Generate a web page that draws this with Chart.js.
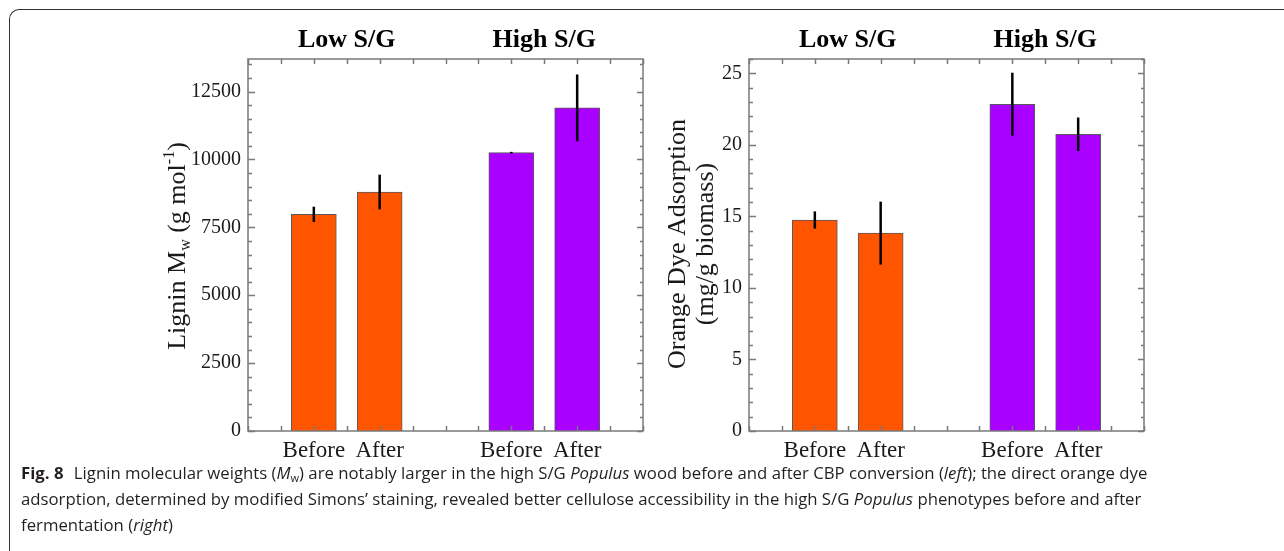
<!DOCTYPE html>
<html>
<head>
<meta charset="utf-8">
<script src="https://cdn.jsdelivr.net/npm/chart.js@4.4.1/dist/chart.umd.min.js"></script>
<style>
  html, body { margin: 0; padding: 0; background: #fff; }
  body { width: 1284px; height: 551px; position: relative; overflow: hidden; }
  .frame {
    position: absolute; left: 9px; top: 9px; width: 1300px; height: 600px;
    border-top: 1.5px solid #333; border-left: 1.5px solid #333;
    border-top-left-radius: 10px;
  }
  .plot { position: absolute; top: 0; width: 515px; height: 470px; }
  #left { left: 140px; }
  #right { left: 645px; }
  .caption {
    position: absolute; left: 21px; top: 460px;
    font-family: 'Open Sans', sans-serif; font-size: 16.75px; line-height: 26px;
    color: #231f20; white-space: nowrap;
  }
  .caption b { font-weight: 700; margin-right: 6px; }
  .caption sub { font-size: 11px; vertical-align: -3px; line-height: 0; }
</style>
</head>
<body>
<div class="frame"></div>
<div class="plot" id="left"><canvas id="chartLignin"></canvas></div>
<div class="plot" id="right"><canvas id="chartDye"></canvas></div>
<div class="caption">
  <div><b>Fig. 8</b> Lignin molecular weights (<i>M</i><sub>w</sub>) are notably larger in the high S/G <i>Populus</i> wood before and after CBP conversion (<i>left</i>); the direct orange dye</div>
  <div>adsorption, determined by modified Simons’ staining, revealed better cellulose accessibility in the high S/G <i>Populus</i> phenotypes before and after</div>
  <div>fermentation (<i>right</i>)</div>
</div>
<script>
// data
const xSlots = [2, 4, 8, 10];
const conditions = ['Before', 'After', 'Before', 'After'];
const groups = ['Low S/G', 'High S/G'];
const groupCenters = [3, 9];

const ligninMw = [7980, 8800, 10250, 11900];
const ligninErr = [280, 640, 30, 1230];
const ligninTicks = [0, 2500, 5000, 7500, 10000, 12500];

const dyeAdsorption = [14.75, 13.83, 22.84, 20.74];
const dyeErr = [0.6, 2.2, 2.2, 1.17];
const dyeTicks = [0, 5, 10, 15, 20, 25];

const barColors = ['#ff5500', '#ff5500', '#aa00ff', '#aa00ff'];
const SERIF = "'Liberation Serif', 'Times New Roman', serif";
const INK = '#1a1a1a';

// box around plot area with inward ticks on all four sides
const frameTicks = {
    id: 'frameTicks',
    afterDatasetsDraw(chart, args, opts) {
        const { ctx, chartArea: a, scales } = chart;
        const x = scales.x, y = scales.y;
        ctx.save();
        ctx.strokeStyle = '#7a7a7a';
        ctx.lineWidth = 1.5;
        ctx.beginPath();
        for (let v = x.min; v <= x.max; v += 1) {
            const px = Math.round(x.getPixelForValue(v)) + 0.5;
            ctx.moveTo(px, a.bottom); ctx.lineTo(px, a.bottom - 5);
            ctx.moveTo(px, a.top); ctx.lineTo(px, a.top + 5);
        }
        for (let v = 0; v <= y.max + 1e-9; v += opts.minor) {
            const py = Math.round(y.getPixelForValue(v)) + 0.5;
            const r = v / opts.major;
            const major = Math.abs(r - Math.round(r)) < 1e-6;
            const len = major ? 7 : 4;
            ctx.moveTo(a.left, py); ctx.lineTo(a.left + len, py);
            ctx.moveTo(a.right, py); ctx.lineTo(a.right - len + 1, py);
        }
        ctx.stroke();
        ctx.strokeRect(a.left, a.top, a.right - a.left, a.bottom - a.top);
        ctx.restore();
    }
};

// symmetric error bars, no caps
const errorBars = {
    id: 'errorBars',
    afterDatasetsDraw(chart, args, opts) {
        const { ctx, scales: { y } } = chart;
        const meta = chart.getDatasetMeta(0);
        const values = chart.data.datasets[0].data;
        ctx.save();
        ctx.strokeStyle = '#000';
        ctx.lineWidth = 2.5;
        meta.data.forEach((bar, i) => {
            const v = values[i].y, e = opts.errors[i];
            ctx.beginPath();
            ctx.moveTo(bar.x, y.getPixelForValue(v + e));
            ctx.lineTo(bar.x, y.getPixelForValue(v - e));
            ctx.stroke();
        });
        ctx.restore();
    }
};

// rotated y-axis title that allows sub/superscripts
const yTitle = {
    id: 'yTitle',
    afterDraw(chart, args, opts) {
        const ctx = chart.ctx;
        const size = opts.size;
        const fontOf = p => (p.sub || p.sup ? Math.round(size * 0.62) : size) + 'px ' + SERIF;
        ctx.save();
        ctx.fillStyle = INK;
        ctx.textBaseline = 'alphabetic';
        ctx.textAlign = 'left';
        opts.lines.forEach(line => {
            let total = 0;
            line.parts.forEach(p => { ctx.font = fontOf(p); total += ctx.measureText(p.t).width; });
            ctx.save();
            ctx.translate(line.x, opts.centerY);
            ctx.rotate(-Math.PI / 2);
            let cx = -total / 2;
            line.parts.forEach(p => {
                ctx.font = fontOf(p);
                const dy = p.sub ? 5 : (p.sup ? -11 : 0);
                ctx.fillText(p.t, cx, dy);
                cx += ctx.measureText(p.t).width;
            });
            ctx.restore();
        });
        ctx.restore();
    }
};

const makeChart = (id, values, errors, ticks, yMax, minor, major, axisWidth, padRight, title) => {
    return new Chart(document.getElementById(id), {
        type: 'bar',
        data: {
            datasets: [{
                data: xSlots.map((x, i) => ({ x: x, y: values[i] })),
                backgroundColor: barColors,
                borderColor: '#5a5a5a',
                borderWidth: 1,
                barThickness: 45,
                xAxisID: 'x',
                yAxisID: 'y'
            }]
        },
        options: {
            responsive: true,
            maintainAspectRatio: false,
            animation: false,
            layout: { padding: { left: 0, right: padRight, top: 0, bottom: 0 } },
            plugins: {
                legend: { display: false },
                tooltip: { enabled: false },
                errorBars: { errors: errors },
                frameTicks: { minor: minor, major: major },
                yTitle: title
            },
            scales: {
                x: {
                    type: 'linear', position: 'bottom', min: 0, max: 12, offset: false,
                    grid: { display: false, drawTicks: false, tickLength: 0 }, border: { display: false },
                    afterBuildTicks: s => { s.ticks = xSlots.map(v => ({ value: v })); },
                    afterFit: s => { s.height = 39; },
                    ticks: {
                        autoSkip: false, maxRotation: 0, padding: 6, color: INK,
                        font: { family: SERIF, size: 23 },
                        callback: (v, i) => conditions[i]
                    }
                },
                xTop: {
                    type: 'linear', position: 'top', min: 0, max: 12, offset: false,
                    grid: { display: false, drawTicks: false, tickLength: 0 }, border: { display: false },
                    afterBuildTicks: s => { s.ticks = groupCenters.map(v => ({ value: v })); },
                    afterFit: s => { s.height = 59; },
                    ticks: {
                        autoSkip: false, maxRotation: 0, padding: 3, color: '#000',
                        font: { family: SERIF, size: 26, weight: 'bold' },
                        callback: (v, i) => groups[i]
                    }
                },
                y: {
                    type: 'linear', min: 0, max: yMax,
                    grid: { display: false, drawTicks: false, tickLength: 0 }, border: { display: false },
                    afterBuildTicks: s => { s.ticks = ticks.map(v => ({ value: v })); },
                    afterFit: s => { s.width = axisWidth; },
                    ticks: {
                        padding: 7, color: INK,
                        font: { family: SERIF, size: 20 },
                        callback: v => String(v)
                    }
                }
            }
        },
        plugins: [frameTicks, errorBars, yTitle]
    });
};

makeChart('chartLignin', ligninMw, ligninErr, ligninTicks, 13700, 500, 2500, 108, 12, {
    size: 26, centerY: 246,
    lines: [{ x: 45, parts: [
        { t: 'Lignin M' }, { t: 'w', sub: true }, { t: ' (g mol' }, { t: '-1', sup: true }, { t: ')' }
    ] }]
});

makeChart('chartDye', dyeAdsorption, dyeErr, dyeTicks, 26, 1, 5, 104, 16, {
    size: 26, centerY: 244,
    lines: [
        { x: 40, parts: [{ t: 'Orange Dye Adsorption' }] },
        { x: 68, parts: [{ t: '(mg/g biomass)' }] }
    ]
});
</script>
</body>
</html>
